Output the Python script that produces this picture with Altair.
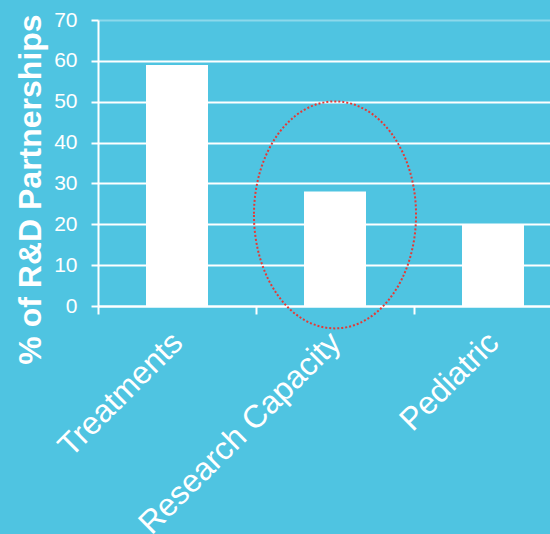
import altair as alt
import pandas as pd

categories = ["Treatments", "Research Capacity", "Pediatric"]
values = [59, 28, 20]
y_ticks = [0, 10, 20, 30, 40, 50, 60, 70]

highlight_category = ["Research Capacity"]
highlight_center = [22.3]

df = pd.DataFrame({"category": categories, "value": values})
ann = pd.DataFrame({"category": highlight_category, "center": highlight_center})

FONT = "Liberation Sans"
BG = "#4FC4E1"

x_scale = alt.Scale(domain=categories, range=[0, 474], paddingInner=0, paddingOuter=0)
y_scale = alt.Scale(domain=[0, 70], nice=False)

bars = alt.Chart(df).mark_bar(color="white", width=62).encode(
    x=alt.X(
        "category:N",
        sort=categories,
        scale=x_scale,
        axis=alt.Axis(
            title=None,
            labelAngle=-45,
            labelAlign="right",
            labelBaseline="middle",
            labelFontSize=32,
            labelFont=FONT,
            labelColor="white",
            labelPadding=23,
            labelLimit=0,
            labelOverlap=False,
            domainColor="white",
            domainWidth=2,
            tickColor="white",
            tickWidth=2,
            tickSize=8,
            tickBand="extent",
            grid=False,
        ),
    ),
    y=alt.Y(
        "value:Q",
        scale=y_scale,
        axis=alt.Axis(
            title="% of R&D Partnerships",
            values=y_ticks,
            titleFont=FONT,
            titleFontSize=32,
            titleFontWeight="bold",
            titleColor="white",
            titleX=-68,
            titleY=169,
            titleAlign="center",
            titleBaseline="middle",
            titleAngle=-90,
            labelFont=FONT,
            labelFontSize=21,
            labelColor="white",
            labelPadding=14,
            domainColor="white",
            domainWidth=2,
            tickColor="white",
            tickWidth=2,
            tickSize=7,
            grid=True,
            gridColor="white",
            gridWidth=2,
            gridOpacity=alt.condition("datum.value == 70", alt.value(0.35), alt.value(1)),
        ),
    ),
)

ellipse_path = "M -0.714 0 A 0.714 1 0 1 0 0.714 0 A 0.714 1 0 1 0 -0.714 0 Z"
ellipse = alt.Chart(ann).mark_point(
    shape=ellipse_path,
    size=51529,
    filled=False,
    stroke="#E53935",
    strokeWidth=2,
    strokeDash=[2, 2],
    opacity=1,
).encode(
    x=alt.X("category:N", sort=categories, scale=x_scale),
    y=alt.Y("center:Q", scale=y_scale),
)

chart = (
    alt.layer(bars, ellipse)
    .properties(
        width=452,
        height=286,
        autosize=alt.AutoSizeParams(type="none"),
        padding={"left": 98, "top": 20, "right": 0, "bottom": 228},
        background=BG,
    )
    .configure_view(stroke=None)
)

chart.save("out.html", embed_options={"renderer": "svg", "actions": False})
